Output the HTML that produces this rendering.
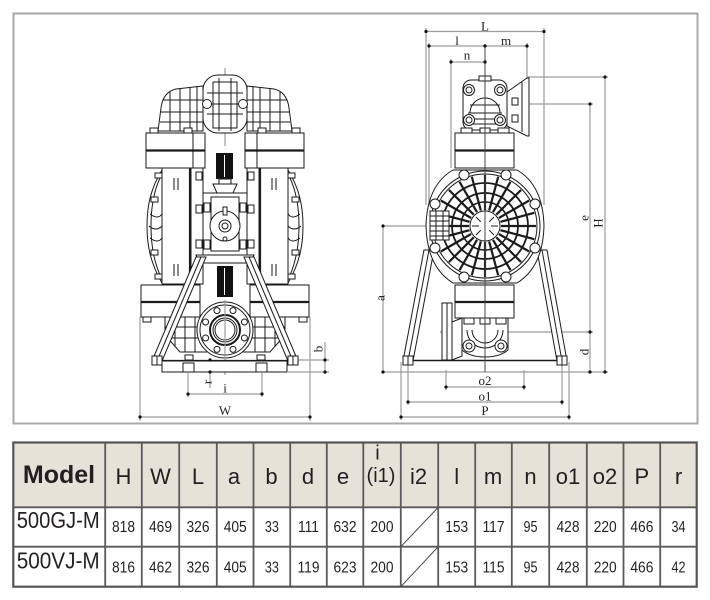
<!DOCTYPE html>
<html><head><meta charset="utf-8">
<style>
html,body{margin:0;padding:0;background:#fff;}
svg{display:block;}
.d{stroke:#1a1a1a;stroke-width:1;fill:#fff}
.n{stroke:#1a1a1a;stroke-width:1;fill:none}
.t{stroke:#1a1a1a;stroke-width:2.2;fill:none}
.g{stroke:#9c9c9c;stroke-width:1.2;fill:none}
.lab{font-family:"Liberation Sans",sans-serif;font-size:13px;fill:#222}
.lab{font-family:"Liberation Serif",serif;}
.hd{font-family:"Liberation Sans",sans-serif;font-size:22px;fill:#231f20}
.nm{font-family:"Liberation Sans",sans-serif;font-size:16px;fill:#231f20}
.md{font-family:"Liberation Sans",sans-serif;font-size:23px;fill:#231f20}
</style></head><body>
<svg width="710" height="600" viewBox="0 0 710 600" xmlns="http://www.w3.org/2000/svg">
<rect width="710" height="600" fill="#fff"/>
<rect x="13.5" y="13.5" width="684" height="410" fill="none" stroke="#a9a9a9" stroke-width="2"/>

<!-- ============ LEFT VIEW : dimension lines ============ -->
<g class="g">
<line x1="140" y1="317" x2="140" y2="421"/>
<line x1="310" y1="317" x2="310" y2="421"/>
<line x1="140" y1="417" x2="310" y2="417"/>
<line x1="188" y1="373" x2="188" y2="397"/>
<line x1="262" y1="373" x2="262" y2="397"/>
<line x1="188" y1="394" x2="262" y2="394"/>
<line x1="210" y1="358" x2="210" y2="388"/>
<line x1="296" y1="360" x2="329" y2="360"/>
<line x1="288" y1="372" x2="329" y2="372"/>
<line x1="325" y1="342" x2="325" y2="374"/>
<line x1="225" y1="68" x2="225" y2="146"/>
</g>

<!-- top manifold -->
<path class="d" d="M203,86 L176,89 Q163,92 161,108 L158,131 L203,131 Z"/>
<path class="d" d="M247,86 L274,89 Q287,92 289,108 L292,131 L247,131 Z"/>
<g class="n">
<line x1="170" y1="91" x2="170" y2="131"/><line x1="180" y1="88" x2="180" y2="131"/>
<line x1="190" y1="87" x2="190" y2="131"/><line x1="197" y1="86" x2="197" y2="131"/>
<line x1="163" y1="100" x2="203" y2="100"/><line x1="161" y1="112" x2="203" y2="112"/>
<line x1="160" y1="122" x2="203" y2="122"/>
<line x1="280" y1="91" x2="280" y2="131"/><line x1="270" y1="88" x2="270" y2="131"/>
<line x1="260" y1="87" x2="260" y2="131"/><line x1="253" y1="86" x2="253" y2="131"/>
<line x1="247" y1="100" x2="287" y2="100"/><line x1="247" y1="112" x2="289" y2="112"/>
<line x1="247" y1="122" x2="290" y2="122"/>
</g>
<rect class="d" x="203" y="75" width="44" height="58" rx="15"/>
<g class="n">
<rect x="213" y="82" width="24" height="46"/>
<line x1="219" y1="78" x2="219" y2="131"/><line x1="231" y1="78" x2="231" y2="131"/>
<line x1="207" y1="93" x2="243" y2="93"/><line x1="205" y1="104" x2="245" y2="104"/>
<line x1="207" y1="114" x2="243" y2="114"/>
</g>
<circle class="d" cx="207" cy="104" r="4.5"/>
<circle class="d" cx="243" cy="104" r="4.5"/>
<rect class="d" x="150" y="128" width="8" height="5"/><rect class="d" x="184" y="128" width="8" height="5"/>
<rect class="d" x="258" y="128" width="8" height="5"/><rect class="d" x="292" y="128" width="8" height="5"/>

<!-- top flange blocks -->
<rect class="d" x="146" y="133" width="59" height="35"/>
<line class="t" x1="146" y1="150.5" x2="205" y2="150.5"/>
<line class="n" x1="193" y1="133" x2="193" y2="168"/>
<rect class="d" x="245" y="133" width="59" height="35"/>
<line class="t" x1="245" y1="150.5" x2="304" y2="150.5"/>
<line class="n" x1="257" y1="133" x2="257" y2="168"/>

<!-- chambers -->
<path class="d" d="M162,170 C151,188 147,205 147,226 C147,247 151,264 162,283 Z"/>
<path class="n" d="M160,178 C153,193 151,210 151,226 C151,242 153,259 160,275"/>
<path class="n" d="M150,214 Q158,220 162,214 M149,226 Q156,232 162,226 M150,238 Q158,244 162,238"/>
<rect class="d" x="155" y="173" width="7" height="5"/><rect class="d" x="151" y="197" width="7" height="5"/>
<rect class="d" x="151" y="250" width="7" height="5"/><rect class="d" x="155" y="274" width="7" height="5"/>
<rect class="d" x="162" y="168" width="29" height="116"/>
<line class="t" x1="190" y1="168" x2="190" y2="284"/>
<rect class="d" x="191" y="168" width="12" height="116"/>
<g class="n"><line x1="174" y1="178" x2="174" y2="190"/><line x1="178" y1="178" x2="178" y2="190"/>
<line x1="174" y1="264" x2="174" y2="276"/><line x1="178" y1="264" x2="178" y2="276"/>
<rect x="196" y="172" width="6" height="8"/><rect x="196" y="205" width="6" height="8"/><rect x="196" y="240" width="6" height="8"/></g>

<path class="d" d="M288,170 C299,188 303,205 303,226 C303,247 299,264 288,283 Z"/>
<path class="n" d="M290,178 C297,193 299,210 299,226 C299,242 297,259 290,275"/>
<path class="n" d="M300,214 Q292,220 288,214 M301,226 Q294,232 288,226 M300,238 Q292,244 288,238"/>
<rect class="d" x="288" y="173" width="7" height="5"/><rect class="d" x="292" y="197" width="7" height="5"/>
<rect class="d" x="292" y="250" width="7" height="5"/><rect class="d" x="288" y="274" width="7" height="5"/>
<rect class="d" x="259" y="168" width="29" height="116"/>
<line class="t" x1="260" y1="168" x2="260" y2="284"/>
<rect class="d" x="247" y="168" width="12" height="116"/>
<g class="n"><line x1="276" y1="178" x2="276" y2="190"/><line x1="272" y1="178" x2="272" y2="190"/>
<line x1="276" y1="264" x2="276" y2="276"/><line x1="272" y1="264" x2="272" y2="276"/>
<rect x="248" y="172" width="6" height="8"/><rect x="248" y="205" width="6" height="8"/><rect x="248" y="240" width="6" height="8"/></g>

<!-- centre column -->
<rect x="216" y="153" width="17" height="26" fill="#111"/>
<line x1="224.5" y1="155" x2="224.5" y2="177" stroke="#fff" stroke-width="1"/>
<rect class="d" x="219" y="179" width="12" height="5"/>
<path class="d" d="M213,184 L237,184 L233,193 L217,193 Z"/>
<rect class="d" x="203" y="193" width="44" height="62"/>
<rect class="n" x="211" y="197" width="28" height="54"/>
<rect class="d" x="204" y="203" width="6" height="9"/><rect class="d" x="204" y="240" width="6" height="9"/>
<rect class="d" x="240" y="203" width="6" height="9"/><rect class="d" x="240" y="240" width="6" height="9"/>
<circle class="d" cx="225" cy="226" r="15"/>
<circle class="n" cx="225" cy="226" r="6"/>
<circle class="n" cx="225" cy="226" r="3"/>
<rect class="d" x="223" y="207" width="4" height="8"/>
<circle class="n" cx="225" cy="239" r="2"/>

<!-- bottom flange blocks -->
<rect class="d" x="141" y="285" width="59" height="32"/>
<line class="t" x1="141" y1="302" x2="200" y2="302"/>
<rect class="d" x="250" y="285" width="59" height="32"/>
<line class="t" x1="250" y1="302" x2="309" y2="302"/>
<rect class="d" x="143" y="317" width="8" height="5"/><rect class="d" x="299" y="317" width="8" height="5"/>

<!-- lower elbow -->
<path class="d" d="M165,317 L285,317 L285,335 L270,352 L180,352 L165,335 Z"/>
<g class="n">
<line x1="175" y1="317" x2="175" y2="346"/><line x1="185" y1="317" x2="185" y2="352"/><line x1="195" y1="317" x2="195" y2="352"/>
<line x1="255" y1="317" x2="255" y2="352"/><line x1="265" y1="317" x2="265" y2="352"/><line x1="275" y1="317" x2="275" y2="346"/>
<line x1="165" y1="327" x2="285" y2="327"/><line x1="168" y1="338" x2="282" y2="338"/>
</g>
<!-- crossbar & lower muffler -->
<path class="d" d="M196,255 L254,255 L250,263 L200,263 Z"/>
<rect x="217" y="266" width="16" height="31" fill="#111"/>
<line x1="224.5" y1="268" x2="224.5" y2="295" stroke="#fff" stroke-width="1"/>
<!-- inlet flange -->
<circle class="d" cx="225" cy="330" r="28"/>
<circle class="n" cx="225" cy="330" r="25"/>
<g class="d">
<circle cx="244.4" cy="338" r="3"/><circle cx="233" cy="349.4" r="3"/><circle cx="217" cy="349.4" r="3"/><circle cx="205.6" cy="338" r="3"/>
<circle cx="205.6" cy="322" r="3"/><circle cx="217" cy="310.6" r="3"/><circle cx="233" cy="310.6" r="3"/><circle cx="244.4" cy="322" r="3"/>
</g>
<circle cx="225" cy="330" r="15" fill="#fff" stroke="#1a1a1a" stroke-width="2"/>
<circle class="n" cx="225" cy="330" r="12"/>
<circle class="n" cx="225" cy="330" r="10"/>
<line class="g" x1="225" y1="300" x2="225" y2="375"/>
<!-- legs -->
<path class="d" d="M196,257 L206,257 L162,361 L152,361 Z"/>
<line class="n" x1="201" y1="257" x2="157" y2="361"/>
<path class="d" d="M244,257 L254,257 L298,361 L288,361 Z"/>
<line class="n" x1="249" y1="257" x2="293" y2="361"/>
<!-- base -->
<line x1="153" y1="360.5" x2="297" y2="360.5" stroke="#1a1a1a" stroke-width="1.2"/>
<rect class="d" x="162" y="361" width="125" height="11"/>
<rect class="d" x="183" y="363" width="11" height="9"/><rect class="d" x="256" y="363" width="11" height="9"/>
<rect class="d" x="185" y="355" width="8" height="5"/><rect class="d" x="257" y="355" width="8" height="5"/>
<rect class="d" x="152" y="356" width="10" height="9"/><rect class="d" x="288" y="356" width="10" height="9"/>
<line class="n" x1="157" y1="356" x2="157" y2="365"/><line class="n" x1="293" y1="356" x2="293" y2="365"/>

<!-- left dim dots & labels -->
<g fill="#111">
<circle cx="140" cy="417" r="1.6"/><circle cx="310" cy="417" r="1.6"/>
<circle cx="188" cy="394" r="1.6"/><circle cx="262" cy="394" r="1.6"/>
<circle cx="325" cy="360" r="1.6"/><circle cx="325" cy="372" r="1.6"/>
<circle cx="210" cy="360" r="1.6"/><circle cx="210" cy="372" r="1.6"/>
</g>
<text class="lab" x="225" y="415" text-anchor="middle">W</text>
<text class="lab" x="225" y="392.5" text-anchor="middle">i</text>
<text class="lab" text-anchor="middle" dy="0.35em" transform="translate(207,382) rotate(-90)">r</text>
<text class="lab" text-anchor="middle" dy="0.35em" transform="translate(318,349) rotate(-90)">b</text>

<!-- ============ RIGHT VIEW ============ -->
<g class="g">
<line x1="426" y1="28" x2="426" y2="205"/>
<line x1="544" y1="28" x2="544" y2="205"/>
<line x1="426" y1="31.5" x2="544" y2="31.5"/>
<line x1="429" y1="43" x2="429" y2="205"/>
<line x1="429" y1="46" x2="527" y2="46"/>
<line x1="527" y1="43" x2="527" y2="78"/>
<line x1="451" y1="59" x2="451" y2="168"/>
<line x1="451" y1="62" x2="485" y2="62"/>
<line x1="527" y1="77" x2="608" y2="77"/>
<line x1="605" y1="77" x2="605" y2="372"/>
<line x1="527" y1="104" x2="593" y2="104"/>
<line x1="590" y1="104" x2="590" y2="372"/>
<line x1="440" y1="332" x2="593" y2="332"/>
<line x1="383" y1="372" x2="608" y2="372"/>
<line x1="383" y1="226" x2="432" y2="226"/>
<line x1="383" y1="226" x2="383" y2="372"/>
<line x1="446" y1="370" x2="446" y2="390"/>
<line x1="524" y1="370" x2="524" y2="390"/>
<line x1="446" y1="387" x2="524" y2="387"/>
<line x1="408" y1="364" x2="408" y2="405"/>
<line x1="562" y1="364" x2="562" y2="405"/>
<line x1="408" y1="402" x2="562" y2="402"/>
<line x1="401" y1="362" x2="401" y2="420"/>
<line x1="569" y1="362" x2="569" y2="420"/>
<line x1="401" y1="417" x2="569" y2="417"/>
</g>

<!-- legs -->
<path class="d" d="M424,250 L434,250 L413,361 L403,361 Z"/>
<line class="n" x1="429" y1="250" x2="408" y2="361"/>
<path class="d" d="M537,250 L547,250 L567,361 L557,361 Z"/>
<line class="n" x1="542" y1="250" x2="562" y2="361"/>

<!-- top elbow -->
<path class="d" d="M507,92 L527,78 L529,78 L529,136 L527,136 L507,126 Z"/>
<line class="n" x1="522" y1="82" x2="522" y2="132"/>
<rect class="d" x="512" y="98" width="6" height="7"/><rect class="d" x="512" y="115" width="6" height="7"/>
<rect class="d" x="463" y="80" width="44" height="50" rx="8"/>
<rect class="d" x="479" y="76" width="12" height="5"/>
<path class="n" d="M470,113 A15,15 0 0 1 500,113"/>
<g class="n">
<line x1="470" y1="105" x2="500" y2="105"/><line x1="468" y1="113" x2="502" y2="113"/>
<line x1="468" y1="119" x2="502" y2="119"/><line x1="471" y1="124" x2="499" y2="124"/>
</g>
<g class="d" stroke-width="1.4">
<circle cx="469" cy="90" r="5.5"/><circle cx="500" cy="90" r="5.5"/>
<circle cx="469" cy="120" r="5.5"/><circle cx="500" cy="120" r="5.5"/>
</g>
<g class="n"><circle cx="469" cy="90" r="3"/><circle cx="500" cy="90" r="3"/><circle cx="469" cy="120" r="3"/><circle cx="500" cy="120" r="3"/></g>
<rect class="d" x="461" y="128" width="11" height="5"/><rect class="d" x="480" y="128" width="10" height="5"/><rect class="d" x="498" y="128" width="11" height="5"/>

<!-- upper flange block -->
<rect class="d" x="455" y="133" width="59" height="35"/>
<line class="t" x1="455" y1="150.5" x2="514" y2="150.5"/>

<!-- chamber -->
<path class="d" d="M453,170 L517,170 Q543,185 544,226 Q543,267 517,283 L453,283 Q427,267 426,226 Q427,185 453,170 Z"/>
<circle class="n" cx="485" cy="226" r="55"/>
<circle class="n" cx="485" cy="226" r="52"/>
<g transform="translate(485,226)" stroke="#1a1a1a" stroke-width="2.2">
<line x1="16" y1="0" x2="51" y2="0" transform="rotate(0)"/>
<line x1="16" y1="0" x2="51" y2="0" transform="rotate(15)"/>
<line x1="16" y1="0" x2="51" y2="0" transform="rotate(30)"/>
<line x1="16" y1="0" x2="51" y2="0" transform="rotate(45)"/>
<line x1="16" y1="0" x2="51" y2="0" transform="rotate(60)"/>
<line x1="16" y1="0" x2="51" y2="0" transform="rotate(75)"/>
<line x1="16" y1="0" x2="51" y2="0" transform="rotate(90)"/>
<line x1="16" y1="0" x2="51" y2="0" transform="rotate(105)"/>
<line x1="16" y1="0" x2="51" y2="0" transform="rotate(120)"/>
<line x1="16" y1="0" x2="51" y2="0" transform="rotate(135)"/>
<line x1="16" y1="0" x2="51" y2="0" transform="rotate(150)"/>
<line x1="16" y1="0" x2="51" y2="0" transform="rotate(165)"/>
<line x1="16" y1="0" x2="51" y2="0" transform="rotate(180)"/>
<line x1="16" y1="0" x2="51" y2="0" transform="rotate(195)"/>
<line x1="16" y1="0" x2="51" y2="0" transform="rotate(210)"/>
<line x1="16" y1="0" x2="51" y2="0" transform="rotate(225)"/>
<line x1="16" y1="0" x2="51" y2="0" transform="rotate(240)"/>
<line x1="16" y1="0" x2="51" y2="0" transform="rotate(255)"/>
<line x1="16" y1="0" x2="51" y2="0" transform="rotate(270)"/>
<line x1="16" y1="0" x2="51" y2="0" transform="rotate(285)"/>
<line x1="16" y1="0" x2="51" y2="0" transform="rotate(300)"/>
<line x1="16" y1="0" x2="51" y2="0" transform="rotate(315)"/>
<line x1="16" y1="0" x2="51" y2="0" transform="rotate(330)"/>
<line x1="16" y1="0" x2="51" y2="0" transform="rotate(345)"/>
</g>
<circle cx="485" cy="226" r="43" fill="none" stroke="#1a1a1a" stroke-width="1.8"/>
<circle cx="485" cy="226" r="33" fill="none" stroke="#1a1a1a" stroke-width="1.8"/>
<circle cx="485" cy="226" r="24" fill="none" stroke="#1a1a1a" stroke-width="1.6"/>
<circle class="d" cx="485" cy="226" r="15"/>
<g stroke="#1a1a1a" stroke-width="1">
<line x1="485" y1="213" x2="485" y2="239"/><line x1="472" y1="226" x2="498" y2="226"/>
<line x1="476" y1="217" x2="494" y2="235"/><line x1="494" y1="217" x2="476" y2="235"/>
</g>
<circle cx="485" cy="226" r="6" fill="#fff" stroke="none"/>
<g class="d" stroke-width="1.4">
<circle cx="464" cy="175" r="5"/><circle cx="506" cy="175" r="5"/>
<circle cx="435" cy="204" r="5"/><circle cx="535" cy="204" r="5"/>
<circle cx="435" cy="248" r="5"/><circle cx="535" cy="248" r="5"/>
<circle cx="464" cy="277" r="5"/><circle cx="506" cy="277" r="5"/>
</g>
<rect class="d" x="430" y="211" width="19" height="29"/>
<g class="n">
<line x1="430" y1="216" x2="449" y2="216"/><line x1="430" y1="221" x2="449" y2="221"/>
<line x1="430" y1="226" x2="449" y2="226"/><line x1="430" y1="231" x2="449" y2="231"/>
<line x1="430" y1="236" x2="449" y2="236"/><line x1="436" y1="211" x2="436" y2="240"/>
<line x1="443" y1="211" x2="443" y2="240"/>
</g>

<!-- lower flange block -->
<rect class="d" x="455" y="285" width="59" height="33"/>
<line class="t" x1="455" y1="302" x2="514" y2="302"/>
<!-- lower elbow -->
<rect class="d" x="442" y="303" width="10" height="57"/>
<line class="n" x1="447" y1="303" x2="447" y2="360"/>
<path class="d" d="M452,322 L462,318 L462,356 L452,360 Z"/>
<path class="d" d="M462,318 L508,318 L508,350 Q500,357 485,357 Q470,357 462,350 Z"/>
<path class="n" d="M467,330 A18,18 0 0 0 503,330"/>
<path class="n" d="M472,330 A13,13 0 0 0 498,330"/>
<rect class="d" x="464" y="318" width="10" height="6"/><rect class="d" x="480" y="318" width="10" height="6"/><rect class="d" x="496" y="318" width="10" height="6"/>
<g class="d" stroke-width="1.5"><circle cx="469" cy="346" r="6"/><circle cx="501" cy="346" r="6"/></g>
<g class="n"><circle cx="469" cy="346" r="3"/><circle cx="501" cy="346" r="3"/></g>
<!-- base -->
<line x1="403" y1="360.5" x2="567" y2="360.5" stroke="#1a1a1a" stroke-width="1.6"/>
<rect class="d" x="403" y="356" width="10" height="9"/><rect class="d" x="557" y="356" width="10" height="9"/>
<line class="n" x1="408" y1="356" x2="408" y2="365"/><line class="n" x1="562" y1="356" x2="562" y2="365"/>
<line x1="485" y1="44" x2="485" y2="372" stroke="#444" stroke-width="1"/>

<!-- right dim dots & labels -->
<g fill="#111">
<circle cx="426" cy="31.5" r="1.6"/><circle cx="544" cy="31.5" r="1.6"/>
<circle cx="429" cy="46" r="1.6"/><circle cx="485" cy="46" r="1.6"/><circle cx="527" cy="46" r="1.6"/>
<circle cx="451" cy="62" r="1.6"/><circle cx="485" cy="62" r="1.6"/>
<circle cx="605" cy="77" r="1.6"/><circle cx="605" cy="372" r="1.6"/>
<circle cx="590" cy="104" r="1.6"/><circle cx="590" cy="332" r="1.6"/><circle cx="590" cy="372" r="1.6"/>
<circle cx="383" cy="226" r="1.6"/><circle cx="383" cy="372" r="1.6"/>
<circle cx="446" cy="387" r="1.6"/><circle cx="524" cy="387" r="1.6"/>
<circle cx="408" cy="402" r="1.6"/><circle cx="562" cy="402" r="1.6"/>
<circle cx="401" cy="417" r="1.6"/><circle cx="569" cy="417" r="1.6"/>
</g>
<text class="lab" x="485" y="30.5" text-anchor="middle">L</text>
<text class="lab" x="457" y="45" text-anchor="middle">l</text>
<text class="lab" x="506" y="45" text-anchor="middle">m</text>
<text class="lab" x="467" y="59.5" text-anchor="middle">n</text>
<text class="lab" x="485" y="385" text-anchor="middle">o2</text>
<text class="lab" x="485" y="400.5" text-anchor="middle">o1</text>
<text class="lab" x="485" y="415" text-anchor="middle">P</text>
<text class="lab" text-anchor="middle" dy="0.35em" transform="translate(380,298) rotate(-90)">a</text>
<text class="lab" text-anchor="middle" dy="0.35em" transform="translate(584,352) rotate(-90)">d</text>
<text class="lab" text-anchor="middle" dy="0.35em" transform="translate(584,218) rotate(-90)">e</text>
<text class="lab" text-anchor="middle" dy="0.35em" transform="translate(598,223) rotate(-90)">H</text>

<!-- ============ TABLE ============ -->
<rect x="13.3" y="442.5" width="683.4" height="64.8" fill="#e7e2d8"/>
<g stroke="#5a5a5a" stroke-width="1.8">
<line x1="13.3" y1="507.3" x2="696.7" y2="507.3"/>
<line x1="13.3" y1="546.7" x2="696.7" y2="546.7"/>
<line x1="105.2" y1="442.5" x2="105.2" y2="586.7"/>
<line x1="141.8" y1="442.5" x2="141.8" y2="586.7"/>
<line x1="179.2" y1="442.5" x2="179.2" y2="586.7"/>
<line x1="216.8" y1="442.5" x2="216.8" y2="586.7"/>
<line x1="253.5" y1="442.5" x2="253.5" y2="586.7"/>
<line x1="290.2" y1="442.5" x2="290.2" y2="586.7"/>
<line x1="326.8" y1="442.5" x2="326.8" y2="586.7"/>
<line x1="363.3" y1="442.5" x2="363.3" y2="586.7"/>
<line x1="400.8" y1="442.5" x2="400.8" y2="586.7"/>
<line x1="438.2" y1="442.5" x2="438.2" y2="586.7"/>
<line x1="475.2" y1="442.5" x2="475.2" y2="586.7"/>
<line x1="511.8" y1="442.5" x2="511.8" y2="586.7"/>
<line x1="549.2" y1="442.5" x2="549.2" y2="586.7"/>
<line x1="586.8" y1="442.5" x2="586.8" y2="586.7"/>
<line x1="623.5" y1="442.5" x2="623.5" y2="586.7"/>
<line x1="660.2" y1="442.5" x2="660.2" y2="586.7"/>
</g>
<rect x="13.3" y="442.5" width="683.4" height="144.2" fill="none" stroke="#555" stroke-width="2.2"/>
<g stroke="#444" stroke-width="1">
<line x1="400.8" y1="546.7" x2="438.2" y2="507.3"/>
<line x1="400.8" y1="586.7" x2="438.2" y2="546.7"/>
</g>

<text x="59" y="483" text-anchor="middle" font-family="Liberation Sans, sans-serif" font-size="25" font-weight="bold" fill="#231f20">Model</text>
<g class="hd" text-anchor="middle">
<text x="123.5" y="484">H</text>
<text x="160.5" y="484">W</text>
<text x="198" y="484">L</text>
<text x="234" y="484">a</text>
<text x="271.5" y="484">b</text>
<text x="308" y="484">d</text>
<text x="343" y="484">e</text>
<text x="377.5" y="459.5" font-size="20">i</text>
<text x="381" y="482" font-size="20">(i1)</text>
<text x="418.5" y="484">i2</text>
<text x="456.7" y="484">l</text>
<text x="493" y="484">m</text>
<text x="530.5" y="484">n</text>
<text x="568" y="484">o1</text>
<text x="605" y="484">o2</text>
<text x="641.9" y="484">P</text>
<text x="678.5" y="484">r</text>
</g>

<text class="md" x="16.7" y="528" textLength="83" lengthAdjust="spacingAndGlyphs">500GJ-M</text>
<text class="md" x="16.7" y="568.3" textLength="83" lengthAdjust="spacingAndGlyphs">500VJ-M</text>

<g class="nm" text-anchor="middle">
<text x="123.5" y="532" textLength="23" lengthAdjust="spacingAndGlyphs">818</text>
<text x="160.5" y="532" textLength="23" lengthAdjust="spacingAndGlyphs">469</text>
<text x="198" y="532" textLength="23" lengthAdjust="spacingAndGlyphs">326</text>
<text x="235.2" y="532" textLength="23" lengthAdjust="spacingAndGlyphs">405</text>
<text x="271.9" y="532" textLength="14" lengthAdjust="spacingAndGlyphs">33</text>
<text x="308.5" y="532" textLength="21" lengthAdjust="spacingAndGlyphs">111</text>
<text x="345" y="532" textLength="23" lengthAdjust="spacingAndGlyphs">632</text>
<text x="382" y="532" textLength="23" lengthAdjust="spacingAndGlyphs">200</text>
<text x="456.7" y="532" textLength="23" lengthAdjust="spacingAndGlyphs">153</text>
<text x="493.5" y="532" textLength="22" lengthAdjust="spacingAndGlyphs">117</text>
<text x="530.5" y="532" textLength="14" lengthAdjust="spacingAndGlyphs">95</text>
<text x="568" y="532" textLength="23" lengthAdjust="spacingAndGlyphs">428</text>
<text x="605.2" y="532" textLength="23" lengthAdjust="spacingAndGlyphs">220</text>
<text x="641.9" y="532" textLength="23" lengthAdjust="spacingAndGlyphs">466</text>
<text x="678.5" y="532" textLength="14" lengthAdjust="spacingAndGlyphs">34</text>

<text x="123.5" y="572.5" textLength="23" lengthAdjust="spacingAndGlyphs">816</text>
<text x="160.5" y="572.5" textLength="23" lengthAdjust="spacingAndGlyphs">462</text>
<text x="198" y="572.5" textLength="23" lengthAdjust="spacingAndGlyphs">326</text>
<text x="235.2" y="572.5" textLength="23" lengthAdjust="spacingAndGlyphs">405</text>
<text x="271.9" y="572.5" textLength="14" lengthAdjust="spacingAndGlyphs">33</text>
<text x="308.5" y="572.5" textLength="22" lengthAdjust="spacingAndGlyphs">119</text>
<text x="345" y="572.5" textLength="23" lengthAdjust="spacingAndGlyphs">623</text>
<text x="382" y="572.5" textLength="23" lengthAdjust="spacingAndGlyphs">200</text>
<text x="456.7" y="572.5" textLength="23" lengthAdjust="spacingAndGlyphs">153</text>
<text x="493.5" y="572.5" textLength="22" lengthAdjust="spacingAndGlyphs">115</text>
<text x="530.5" y="572.5" textLength="14" lengthAdjust="spacingAndGlyphs">95</text>
<text x="568" y="572.5" textLength="23" lengthAdjust="spacingAndGlyphs">428</text>
<text x="605.2" y="572.5" textLength="23" lengthAdjust="spacingAndGlyphs">220</text>
<text x="641.9" y="572.5" textLength="23" lengthAdjust="spacingAndGlyphs">466</text>
<text x="678.5" y="572.5" textLength="14" lengthAdjust="spacingAndGlyphs">42</text>
</g>
</svg>
</body></html>
